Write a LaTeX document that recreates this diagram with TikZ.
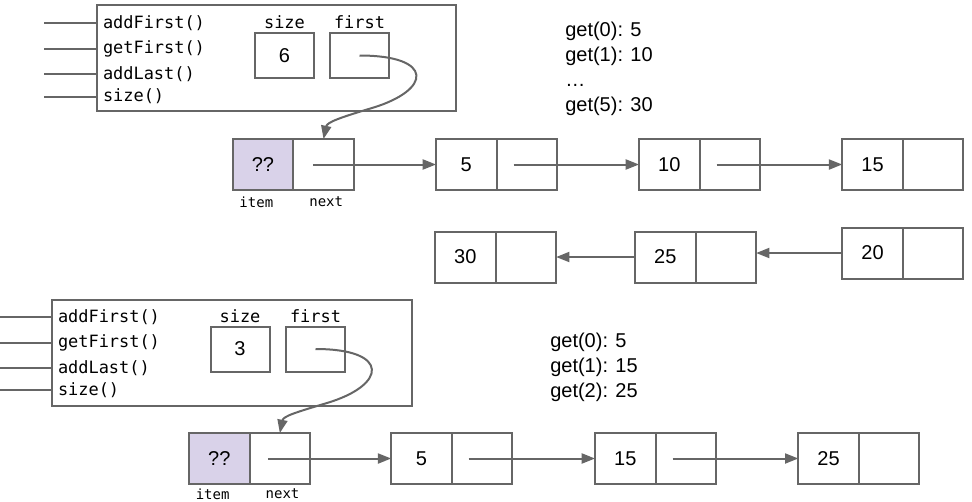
\documentclass[tikz,border=0pt]{standalone}
\usepackage{fontspec}
\setmainfont{Liberation Sans}
\newfontfamily\codefont{DejaVu Sans Mono}
\usetikzlibrary{positioning,arrows.meta}
\definecolor{edge}{HTML}{666666}
\definecolor{lilac}{HTML}{D9D2E9}
\begin{document}
\begin{tikzpicture}[x=0.75pt, y=-0.75pt,
    cell/.style={draw=edge, line width=1.5pt, minimum width=45.4pt, minimum height=38.25pt,
      inner sep=0pt, outer sep=0pt, font=\fontsize{15}{17}\selectfont},
    field/.style={draw=edge, line width=1.5pt, minimum width=44.25pt, minimum height=33.75pt,
      inner sep=0pt, outer sep=0pt, font=\fontsize{15}{17}\selectfont},
    frame/.style={draw=edge, line width=1.5pt, minimum width=269.5pt, minimum height=79.5pt,
      inner sep=0pt, outer sep=0pt},
    method/.style={anchor=west, inner xsep=4.5pt, inner ysep=0pt, outer sep=0pt,
      font=\codefont\fontsize{12.7}{14}\selectfont},
    tag/.style={inner sep=0pt, font=\codefont\fontsize{12.7}{14}\selectfont},
    small/.style={inner sep=0pt, font=\codefont\fontsize{10.5}{12}\selectfont},
    note/.style={align=left, anchor=west, inner sep=0pt, font=\fontsize{15}{18.75}\selectfont},
    wire/.style={draw=edge, line width=1.5pt},
    link/.style={draw=edge, line width=1.5pt, -{Triangle[length=10pt,width=7.5pt]}}]
        \useasboundingbox (0,0) rectangle (972,501);
        \coordinate (lft1) at (44,0);
        \coordinate (lft2) at (0,0);
        \coordinate (bend1) at (372,108);
        \coordinate (bend2) at (327,403);

        \node[frame] (obj1) at (276.5,58) {};
        \node[method] (af1) at (97,22.7) {addFirst()};
        \node[method] (gf1) at (97,48.7) {getFirst()};
        \node[method] (al1) at (97,73.7) {addLast()};
        \node[method] (sm1) at (97,96.5) {size()};
        \draw[wire] (af1.west) -- (af1.west -| lft1);
        \draw[wire] (gf1.west) -- (gf1.west -| lft1);
        \draw[wire] (al1.west) -- (al1.west -| lft1);
        \draw[wire] (sm1.west) -- (sm1.west -| lft1);
        \node[field] (sz1) at (284.5,55.5) {6};
        \node[field] (fs1) at (359.5,55.5) {};
        \node[tag, above=3pt of sz1] (szt1) {size};
        \node[tag, above=3pt of fs1] (fst1) {first};

        \node[cell, fill=lilac] (ts) at (263,164.5) {??};
        \node[cell, right=0pt of ts] (tsn) {};
        \node[small, below=5pt of ts, xshift=-5pt] (tsi) {item};
        \node[small, below=5pt of tsn, xshift=2pt] (tsx) {next};
        \node[cell] (t5) at (466.3,164.5) {5};
        \node[cell, right=0pt of t5] (t5n) {};
        \node[cell] (t10) at (669.3,164.5) {10};
        \node[cell, right=0pt of t10] (t10n) {};
        \node[cell] (t15) at (872.5,164.5) {15};
        \node[cell, right=0pt of t15] (t15n) {};
        \node[cell] (t20) at (872.5,253) {20};
        \node[cell, right=0pt of t20] (t20n) {};
        \node[cell] (t25) at (665.3,257) {25};
        \node[cell, right=0pt of t25] (t25n) {};
        \node[cell] (t30) at (465.3,257) {30};
        \node[cell, right=0pt of t30] (t30n) {};

        \draw[link] (fs1.center) .. controls +(75,0) and +(60,-18) .. (bend1)
        .. controls +(-30,9) and +(3.5,-17) .. (tsn.north);
        \draw[link] ([xshift=-8pt]tsn.center) -- (t5.west);
        \draw[link] ([xshift=-10pt]t5n.center) -- (t10.west);
        \draw[link] ([xshift=-10pt]t10n.center) -- (t15.west);
        \draw[link] (t20.west) -- (t20.west -| t25n.east);
        \draw[link] (t25.west) -- (t25.west -| t30n.east);
        \node[note] (get1) at (565,69.3) {get(0): 5\\get(1): 10\\…\\get(5): 30};

        \node[frame] (obj2) at (232,353) {};
        \node[method] (af2) at (52,317) {addFirst()};
        \node[method] (gf2) at (52,342.5) {getFirst()};
        \node[method] (al2) at (52,368) {addLast()};
        \node[method] (sm2) at (52,390) {size()};
        \draw[wire] (af2.west) -- (af2.west -| lft2);
        \draw[wire] (gf2.west) -- (gf2.west -| lft2);
        \draw[wire] (al2.west) -- (al2.west -| lft2);
        \draw[wire] (sm2.west) -- (sm2.west -| lft2);
        \node[field] (sz2) at (240,349) {3};
        \node[field] (fs2) at (315.5,349) {};
        \node[tag, above=3pt of sz2] (szt2) {size};
        \node[tag, above=3pt of fs2] (fst2) {first};

        \node[cell, fill=lilac] (bs) at (219.3,458.5) {??};
        \node[cell, right=0pt of bs] (bsn) {};
        \node[small, below=3.5pt of bs, xshift=-5pt] (bsi) {item};
        \node[small, below=3.5pt of bsn, xshift=2pt] (bsx) {next};
        \node[cell] (b5) at (421.5,458.5) {5};
        \node[cell, right=0pt of b5] (b5n) {};
        \node[cell] (b15) at (625.3,458.5) {15};
        \node[cell, right=0pt of b15] (b15n) {};
        \node[cell] (b25) at (828.6,458.5) {25};
        \node[cell, right=0pt of b25] (b25n) {};

        \draw[link] (fs2.center) .. controls +(75,0) and +(60,-18) .. (bend2)
        .. controls +(-30,9) and +(3.5,-17) .. (bsn.north);
        \draw[link] ([xshift=-9pt]bsn.center) -- (b5.west);
        \draw[link] ([xshift=-10pt]b5n.center) -- (b15.west);
        \draw[link] ([xshift=-10pt]b15n.center) -- (b25.west);
        \node[note] (get2) at (550,367.8) {get(0): 5\\get(1): 15\\get(2): 25};
      \end{tikzpicture}
\end{document}
